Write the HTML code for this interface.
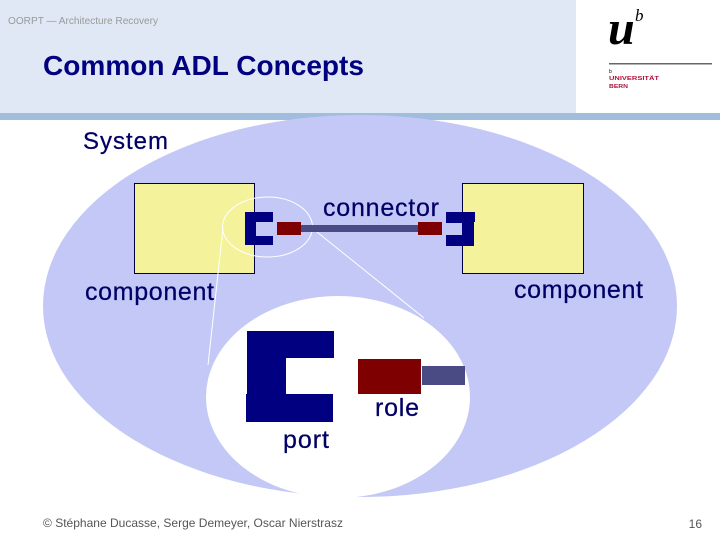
<!DOCTYPE html>
<html><head><meta charset="utf-8"><style>
html,body{margin:0;padding:0;background:#fff}
svg{display:block}
text{font-family:"Liberation Sans",sans-serif}
</style></head><body>
<svg width="720" height="540" viewBox="0 0 720 540" xmlns="http://www.w3.org/2000/svg">
<rect width="720" height="540" fill="#fff"/>
<rect width="576" height="113" fill="#dfe8f4"/>
<rect y="113" width="720" height="7" fill="#a0bedb"/>
<text x="8" y="24" font-size="10.500" fill="#9a9a9a" textLength="150" lengthAdjust="spacingAndGlyphs">OORPT — Architecture Recovery</text>
<text x="43" y="75" font-size="28" font-weight="bold" fill="#000080" textLength="321" lengthAdjust="spacingAndGlyphs">Common ADL Concepts</text>
<text x="608" y="44" font-size="48" font-weight="bold" font-style="italic" fill="#000" style="font-family:'Liberation Serif',serif">u</text>
<text x="635" y="21" font-size="17" font-style="italic" fill="#000" style="font-family:'Liberation Serif',serif">b</text>
<rect x="609" y="63" width="103" height="1.500" fill="#666"/>
<text x="609" y="73" font-size="5" fill="#000">b</text>
<text x="609" y="80" font-size="5.500" font-weight="bold" fill="#b0103c" textLength="50" lengthAdjust="spacingAndGlyphs">UNIVERSITÄT</text>
<text x="609" y="88" font-size="5.500" font-weight="bold" fill="#b0103c" textLength="19" lengthAdjust="spacingAndGlyphs">BERN</text>

<ellipse cx="360" cy="306" rx="317" ry="191" fill="#c3c8f6"/>
<rect x="134.500" y="183.500" width="120" height="90" fill="#f4f39c" stroke="#000040"/>
<rect x="462.500" y="183.500" width="121" height="90" fill="#f4f39c" stroke="#000040"/>
<ellipse cx="267.500" cy="227" rx="45" ry="30" fill="none" stroke="#fff"/>
<line x1="223" y1="228" x2="208" y2="365" stroke="#fff"/>
<line x1="312" y1="228" x2="424" y2="318" stroke="#fff"/>
<ellipse cx="338" cy="397" rx="132" ry="101" fill="#fff"/>

<path d="M245 212H273V222H256V236H273V245H245Z" fill="#000080"/>
<rect x="301" y="225" width="117" height="7" fill="#4a4a85"/>
<rect x="277" y="222" width="24" height="13" fill="#7f0000"/>
<rect x="418" y="222" width="24" height="13" fill="#7f0000"/>
<path d="M446 212H475V222H474V246H446V235H462V223H446Z" fill="#000080"/>

<path d="M247 331H334V358H286V394H333V422H246V394H247Z" fill="#000080"/>
<rect x="358" y="359" width="63" height="35" fill="#7f0000"/>
<rect x="422" y="366" width="43" height="19" fill="#4a4a85"/>

<g font-size="25" fill="#000066" stroke="#000066" stroke-width="0.250">
<text x="83" y="149" textLength="85" font-size="24">System</text>
<text x="323" y="216" textLength="116">connector</text>
<text x="85" y="300" textLength="129">component</text>
<text x="514" y="298" textLength="129">component</text>
<text x="375" y="416" textLength="44">role</text>
<text x="283" y="448" textLength="46">port</text>
</g>
<text x="43" y="527" font-size="12" fill="#555" textLength="300" lengthAdjust="spacingAndGlyphs">© Stéphane Ducasse, Serge Demeyer, Oscar Nierstrasz</text>
<text x="702" y="528" font-size="12" fill="#555" text-anchor="end">16</text>
</svg>
</body></html>
